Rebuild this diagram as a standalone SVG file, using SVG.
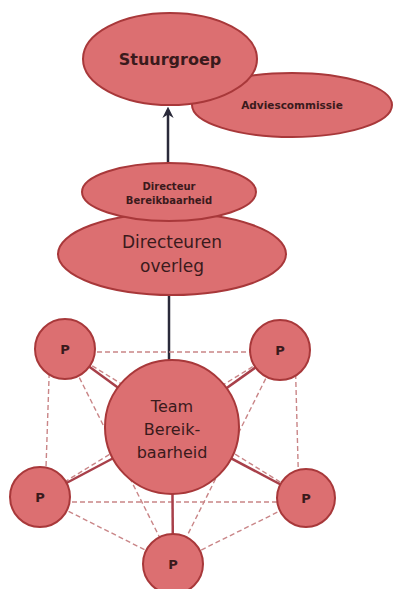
<svg xmlns="http://www.w3.org/2000/svg" width="393" height="589" viewBox="0 0 393 589">
<defs>
<style>
.n{fill:#dc6f71;stroke:#a8383a;stroke-width:2}
.t{font-family:"DejaVu Sans",Verdana,sans-serif;fill:#3a1a1c;text-anchor:middle}
.d{stroke:#c98587;stroke-width:1.4;stroke-dasharray:5 3;fill:none}
.s{stroke:#a8404a;stroke-width:2.5;fill:none}
</style>
<marker id="ah" viewBox="0 0 10 10" refX="7" refY="5" markerWidth="4.5" markerHeight="4.5" orient="auto"><path d="M0,0 L10,5 L0,10 L3,5 z" fill="#2a2a3a"/></marker>
</defs>
<rect width="393" height="589" fill="#fff"/>
<g id="connectors">
<line x1="168" y1="163" x2="168" y2="110" stroke="#2a2a3a" stroke-width="2.5" marker-end="url(#ah)"/>
<line x1="169" y1="295" x2="169" y2="362" stroke="#2a2a3a" stroke-width="2.5"/>
<g class="d">
<line x1="65" y1="352" x2="280" y2="352"/>
<line x1="50" y1="349" x2="45" y2="497"/>
<line x1="295" y1="350" x2="299" y2="498"/>
<line x1="40" y1="502" x2="306" y2="502"/>
<line x1="40" y1="497" x2="173" y2="564"/>
<line x1="306" y1="498" x2="173" y2="564"/>
<line x1="65" y1="349" x2="173" y2="564"/>
<line x1="280" y1="350" x2="173" y2="564"/>
<line x1="65" y1="349" x2="306" y2="498"/>
<line x1="280" y1="350" x2="40" y2="497"/>
</g>
<g class="s">
<line x1="65" y1="349" x2="172" y2="427"/>
<line x1="280" y1="350" x2="172" y2="427"/>
<line x1="40" y1="497" x2="172" y2="427"/>
<line x1="306" y1="498" x2="172" y2="427"/>
<line x1="173" y1="564" x2="172" y2="427"/>
</g>
</g>
<g id="adviescommissie"><ellipse class="n" cx="292" cy="105" rx="100" ry="32"/><text class="t" x="292" y="109" font-size="10.5" font-weight="bold">Adviescommissie</text></g>
<g id="stuurgroep"><ellipse class="n" cx="170" cy="59" rx="87" ry="46"/><text class="t" x="170" y="65" font-size="16" font-weight="bold">Stuurgroep</text></g>
<g id="directeuren-overleg"><ellipse class="n" cx="172" cy="254" rx="114" ry="41"/><text class="t" x="172" y="248" font-size="17" font-weight="500">Directeuren</text><text class="t" x="172" y="272" font-size="17" font-weight="500">overleg</text></g>
<g id="directeur-bereikbaarheid"><ellipse class="n" cx="169" cy="192" rx="87" ry="29"/><text class="t" x="169" y="190" font-size="10" font-weight="bold">Directeur</text><text class="t" x="169" y="204" font-size="10" font-weight="bold">Bereikbaarheid</text></g>
<g id="team"><circle class="n" cx="172" cy="427" r="67"/><text class="t" x="172" y="412" font-size="16" font-weight="500">Team</text><text class="t" x="172" y="435" font-size="16" font-weight="500">Bereik-</text><text class="t" x="172" y="458" font-size="16" font-weight="500">baarheid</text></g>
<g id="p1"><circle class="n" cx="65" cy="349" r="30"/><text class="t" x="65" y="354" font-size="13" font-weight="bold">P</text></g>
<g id="p2"><circle class="n" cx="280" cy="350" r="30"/><text class="t" x="280" y="355" font-size="13" font-weight="bold">P</text></g>
<g id="p3"><circle class="n" cx="40" cy="497" r="30"/><text class="t" x="40" y="502" font-size="13" font-weight="bold">P</text></g>
<g id="p4"><circle class="n" cx="306" cy="498" r="29"/><text class="t" x="306" y="503" font-size="13" font-weight="bold">P</text></g>
<g id="p5"><circle class="n" cx="173" cy="564" r="30"/><text class="t" x="173" y="569" font-size="13" font-weight="bold">P</text></g>
</svg>
